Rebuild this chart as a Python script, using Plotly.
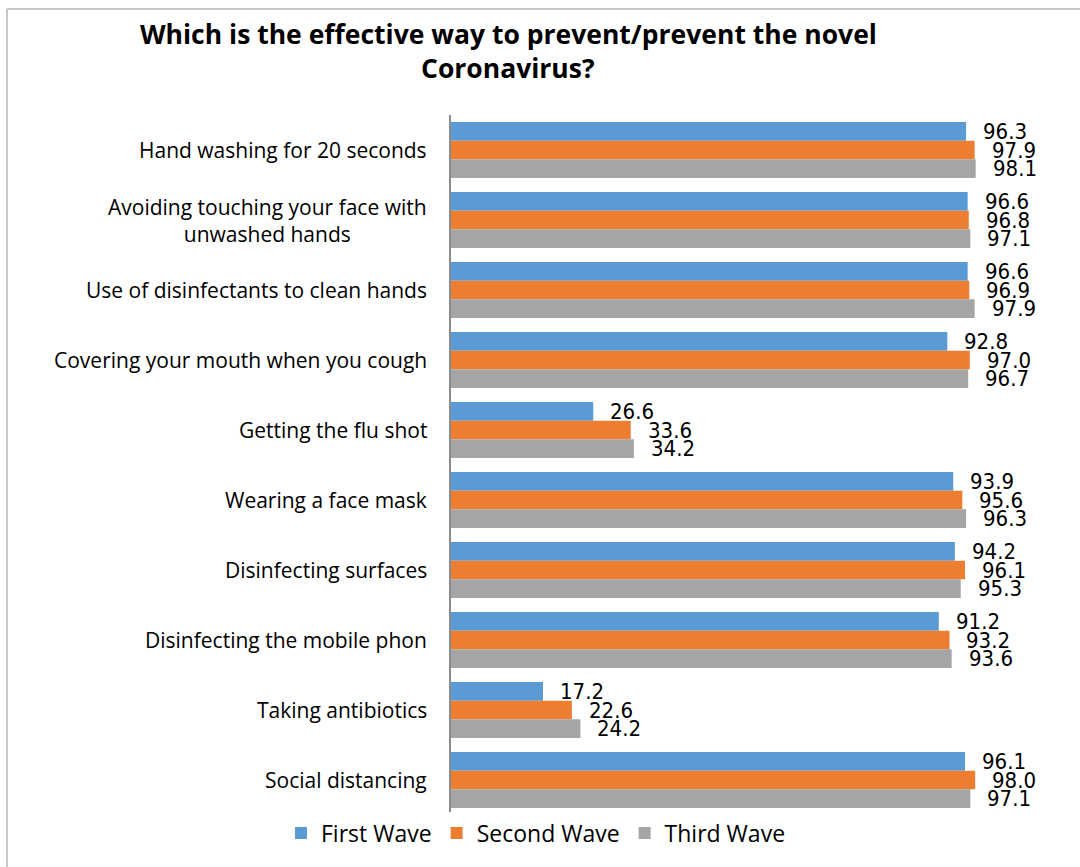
import plotly.graph_objects as go

# Survey responses (%) per prevention measure, for three pandemic waves
categories = [
    "Hand washing for 20 seconds",
    "Avoiding touching your face with<br>unwashed hands",
    "Use of disinfectants to clean hands",
    "Covering your mouth when you cough",
    "Getting the flu shot",
    "Wearing a face mask",
    "Disinfecting surfaces",
    "Disinfecting the mobile phon",
    "Taking antibiotics",
    "Social distancing",
]
first_wave = [96.3, 96.6, 96.6, 92.8, 26.6, 93.9, 94.2, 91.2, 17.2, 96.1]
second_wave = [97.9, 96.8, 96.9, 97.0, 33.6, 95.6, 96.1, 93.2, 22.6, 98.0]
third_wave = [98.1, 97.1, 97.9, 96.7, 34.2, 96.3, 95.3, 93.6, 24.2, 97.1]
title_lines = ["Which is the effective way to prevent/prevent the novel", "Coronavirus?"]

series = [
    ("First Wave", first_wave, "#5B9BD5"),
    ("Second Wave", second_wave, "#ED7D31"),
    ("Third Wave", third_wave, "#A5A5A5"),
]

W, H = 1080, 867
M_L, M_R, M_T, M_B = 451, 0, 115, 52
plot_w = W - M_L - M_R
plot_h = H - M_T - M_B
band = plot_h / len(categories)
bargap = 0.2
bar_px = band * (1 - bargap) / 3
x_max = 117.6

text_font = "'Open Sans', Lato, sans-serif"
value_font = "'DejaVu Sans Condensed', 'DejaVu Sans', sans-serif"


def px_to_paper_x(px):
    return (px - M_L) / plot_w


def px_to_paper_y(py):
    return (H - M_B - py) / plot_h


fig = go.Figure()
for name, vals, color in series:
    fig.add_trace(go.Bar(
        y=categories, x=vals, name=name, orientation="h",
        marker=dict(color=color, line=dict(width=0)),
    ))

annotations = []

# value labels to the right of each bar
for i, (name, vals, color) in enumerate(series):
    for cat, v in zip(categories, vals):
        annotations.append(dict(
            x=v, y=cat, xref="x", yref="y", text=f"{v:.1f}",
            showarrow=False, xanchor="left", yanchor="middle",
            xshift=15, yshift=(1 - i) * bar_px,
            font=dict(family=value_font, size=22, color="#000000"),
        ))

# category labels, centred multi-line text right-aligned against the axis
for cat in categories:
    annotations.append(dict(
        x=0, y=cat, xref="x", yref="y", text=cat, showarrow=False,
        xanchor="right", yanchor="middle", align="center", xshift=-22,
        font=dict(family=text_font, size=21, color="#000000"),
    ))

# two-line bold title
for line, yc in zip(title_lines, [34, 68]):
    annotations.append(dict(
        x=px_to_paper_x(508), y=px_to_paper_y(yc), xref="paper", yref="paper",
        text=f"<b>{line}</b>", showarrow=False,
        xanchor="center", yanchor="middle",
        font=dict(family=text_font, size=26.5, color="#000000"),
    ))

fig.update_layout(
    width=W, height=H,
    margin=dict(l=M_L, r=M_R, t=M_T, b=M_B, pad=0),
    paper_bgcolor="white", plot_bgcolor="white",
    barmode="group", bargap=bargap, bargroupgap=0,
    xaxis=dict(range=[0, x_max], showgrid=False, zeroline=False,
               showticklabels=False, ticks="", showline=False),
    yaxis=dict(autorange="reversed", showgrid=False, zeroline=False,
               showticklabels=False, ticks="", showline=True,
               linecolor="#8C8C8C", linewidth=1.5),
    legend=dict(
        orientation="h", x=px_to_paper_x(536), xanchor="center",
        y=px_to_paper_y(833), yanchor="middle",
        font=dict(family=text_font, size=23, color="#000000"),
        traceorder="normal", itemwidth=30,
    ),
    annotations=annotations,
    showlegend=True,
)

# outer chart border (left and top edges visible)
fig.add_shape(type="line", xref="paper", yref="paper",
              x0=px_to_paper_x(7), x1=px_to_paper_x(7),
              y0=px_to_paper_y(9), y1=px_to_paper_y(H + 20),
              line=dict(color="#B4B4B4", width=1.5))
fig.add_shape(type="line", xref="paper", yref="paper",
              x0=px_to_paper_x(7), x1=px_to_paper_x(W + 20),
              y0=px_to_paper_y(9), y1=px_to_paper_y(9),
              line=dict(color="#B4B4B4", width=1.5))

fig.write_html("out.html")
